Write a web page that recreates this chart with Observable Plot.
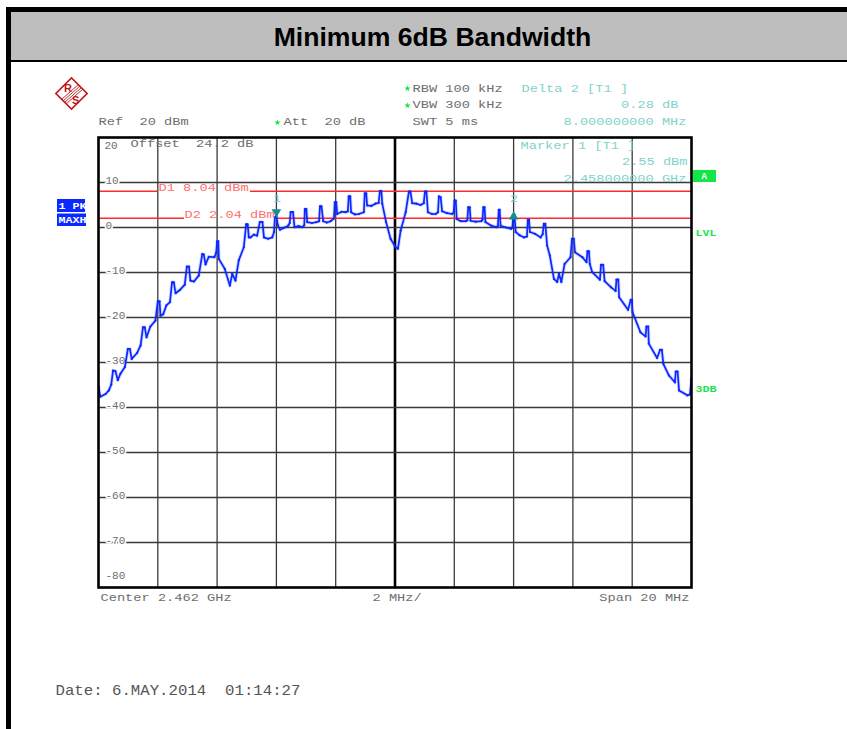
<!DOCTYPE html>
<html><head><meta charset="utf-8">
<script src="https://cdn.jsdelivr.net/npm/d3@7"></script>
<script src="https://cdn.jsdelivr.net/npm/@observablehq/plot@0.6"></script>
<style>
html,body{margin:0;padding:0;background:#fff;width:847px;height:729px;overflow:hidden}
#bar-top{position:absolute;left:6px;top:7px;width:841px;height:5px;background:#000}
#bar-left{position:absolute;left:6px;top:7px;width:5px;height:722px;background:#000}
#title{position:absolute;left:11px;top:12px;width:836px;height:48px;background:#bebebe;border-bottom:2px solid #000;
 font:bold 26.6px "Liberation Sans",Arial,sans-serif;color:#000;text-align:center;line-height:50px;text-indent:7px}
#chart{position:absolute;left:0;top:0}
#chart svg{background:transparent;overflow:visible}
</style></head><body>
<div id="bar-top"></div><div id="bar-left"></div>
<div id="title">Minimum 6dB Bandwidth</div>
<div id="chart"></div>
<script>
const traceLeftHalf=[[-10,-35.3],[-9.94,-37.6],[-9.76,-37],[-9.65,-36.2],[-9.57,-34.9],[-9.51,-31.8],[-9.43,-31.9],[-9.35,-33.9],[-9.26,-32.5],[-9.11,-31],[-9.01,-27],[-8.94,-27],[-8.88,-29.2],[-8.7,-27.9],[-8.58,-26.2],[-8.5,-22.2],[-8.44,-22.2],[-8.38,-24.4],[-8.25,-22],[-8.08,-20.7],[-8,-16.4],[-7.94,-16.4],[-7.91,-19.6],[-7.82,-19.3],[-7.71,-17.3],[-7.59,-16.6],[-7.52,-12.2],[-7.46,-12.2],[-7.4,-14.6],[-7.26,-13.9],[-7.09,-12.7],[-7.02,-8.7],[-6.95,-8.7],[-6.9,-11.8],[-6.78,-12],[-6.62,-10.7],[-6.5,-5.9],[-6.45,-6],[-6.39,-8.2],[-6.28,-6.5],[-6.09,-6.6],[-6.03,-5.6],[-6,-3.1],[-5.96,-3.1],[-5.94,-7],[-5.74,-9.2],[-5.57,-12.9],[-5.49,-10.3],[-5.38,-11.8],[-5.27,-7.3],[-5.1,-4.4],[-5.02,0.7],[-4.97,0.7],[-4.93,-2.2],[-4.87,-2.2],[-4.76,-1.6],[-4.65,-1.8],[-4.56,1.2],[-4.47,1.2],[-4.42,-2.2],[-4.28,-2.5],[-4.14,-2.2],[-4.08,-1],[-4.05,2.3],[-4,2.55],[-3.95,0.5],[-3.88,-0.5],[-3.75,-0.1],[-3.6,0.4],[-3.55,1],[-3.52,3.4],[-3.44,3.4],[-3.39,0.1],[-3.25,0.3],[-3.13,0.1],[-3.06,0.5],[-3.04,4.1],[-2.99,4.1],[-2.96,1.2],[-2.8,1],[-2.65,1.2],[-2.56,1.4],[-2.53,4.7],[-2.48,4.7],[-2.42,1.4],[-2.3,1.1],[-2.17,1.4],[-2.06,2],[-2.03,5.6],[-1.98,5.6],[-1.95,3],[-1.8,3.5],[-1.67,3.4],[-1.59,3.6],[-1.56,6.9],[-1.51,6.9],[-1.48,3.4],[-1.35,2.9],[-1.22,3],[-1.05,3.4],[-1.02,7.6],[-0.97,7.6],[-0.94,4.9],[-0.8,4.8],[-0.66,5.3],[-0.55,5.5],[-0.51,8.1],[-0.46,8.1],[-0.43,5.3],[-0.3,1.2],[-0.15,-2.5],[0.02,-4.4]];
const traceRightHalf=[[0.1,-4.7],[0.19,-0.7],[0.36,3.4],[0.47,8],[0.52,8],[0.58,5.4],[0.72,5.3],[0.86,5],[0.97,5.4],[1.01,8],[1.06,8],[1.11,3.4],[1.25,3],[1.37,3],[1.45,3.4],[1.48,6.9],[1.54,6.7],[1.59,3.6],[1.75,3.2],[1.93,3],[1.98,3.4],[2.01,6],[2.05,6],[2.08,1.9],[2.22,1.4],[2.38,1.4],[2.44,1.6],[2.47,4.5],[2.52,4.5],[2.55,1.5],[2.72,1.3],[2.91,1.4],[2.95,1.7],[2.98,4.5],[3.02,4.5],[3.05,1.2],[3.25,0.4],[3.43,0.07],[3.47,0.4],[3.5,3.9],[3.53,3.9],[3.56,0.4],[3.75,0],[3.92,-0.3],[3.96,0],[3.99,2.83],[4.03,2.83],[4.07,-1],[4.2,-1.7],[4.35,-2.2],[4.45,-2],[4.48,1.7],[4.52,1.7],[4.55,-1],[4.72,-1.4],[4.91,-2.2],[4.98,-1.5],[5.02,0.8],[5.07,0.8],[5.13,-4],[5.22,-6.2],[5.36,-11.4],[5.47,-12.1],[5.53,-10.3],[5.61,-12.1],[5.72,-8.1],[5.92,-6.6],[5.97,-2.5],[6.03,-2.5],[6.07,-5.5],[6.32,-6.6],[6.46,-7.7],[6.49,-5.3],[6.54,-5.3],[6.57,-8.1],[6.65,-9.9],[6.91,-11.6],[6.95,-8.3],[7.02,-8.3],[7.07,-11.9],[7.29,-13.3],[7.44,-14.1],[7.47,-11.6],[7.53,-11.6],[7.56,-15.5],[7.86,-18.3],[7.95,-16.1],[7.99,-16.1],[8.01,-18.8],[8.28,-23.3],[8.45,-24.2],[8.48,-22],[8.54,-22],[8.56,-25.8],[8.84,-29],[8.94,-27.2],[9,-27.2],[9.05,-30.3],[9.24,-32.9],[9.44,-34.4],[9.47,-32],[9.53,-32],[9.58,-36.2],[9.86,-37.3],[9.95,-37.1],[10,-33.6]];
const traceTable=[...traceLeftHalf,...traceRightHalf].map(([x,y])=>({x,y}));
const xDivisions=[-8,-6,-4,-2,2,4,6,8];
const yDivisions=[10,0,-10,-20,-30,-40,-50,-60,-70];
const displayLines=[8.04,2.04];
const displayLineNames=["D1 8.04 dBm","D2 2.04 dBm"];
const markerOffsets=[-4,4];
const markerLevels=[2.55,2.83];

const fx=p=>(p-394.5)/29.65, fy=p=>(227-p)/4.5;
const grey="#6e6e6e", teal="#7fd3cc", green="#14e64a", red="#ff6f6f", blue="#0a28ff", logo="#c01818";
const note=(t,px,py,o={})=>Plot.text([t],{text:d=>d,frameAnchor:"top-left",dx:px-98,dy:py-137,textAnchor:"start",
  lineAnchor:"middle",fontFamily:"Liberation Mono",fontSize:10.5,fill:grey,className:"stretch",...o});
const star=(px,py)=>Plot.dot([0],{frameAnchor:"top-left",dx:px-98,dy:py-137,symbol:"star",r:2,fill:green});
const box=(a,b,c,d,fill)=>Plot.rect([0],{x1:fx(a),x2:fx(b),y1:fy(c),y2:fy(d),fill});

const chart=Plot.plot({
  width:847,height:729,marginLeft:98,marginRight:156,marginTop:137,marginBottom:142,
  style:{background:"transparent",overflow:"visible"},
  x:{domain:[-10,10],axis:null},
  y:{domain:[-80,20],axis:null},
  marks:[
    Plot.ruleX(xDivisions,{stroke:"#3a3a3a",strokeWidth:1.3}),
    Plot.ruleX([0],{stroke:"#000",strokeWidth:2.6}),
    Plot.ruleY(yDivisions,{stroke:"#3a3a3a",strokeWidth:1.3}),
    Plot.axisY(yDivisions,{anchor:"left",tickSize:0,tickPadding:-7,textAnchor:"start",tickFormat:d=>String(d),
      fontFamily:"Liberation Mono",fontSize:10,fill:grey,textStroke:"#fff",textStrokeWidth:3,dy:-2,label:null,className:"ytick"}),
    note("20",104,145,{fontSize:10,className:"ytick"}),
    note("-80",105,575,{fontSize:10,className:"ytick"}),
    Plot.ruleY([displayLines[0]],{x1:-10,x2:fx(157),stroke:"#ff2a2a",strokeWidth:1.4}),
    Plot.ruleY([displayLines[0]],{x1:fx(250),x2:10,stroke:"#ff2a2a",strokeWidth:1.4}),
    Plot.ruleY([displayLines[1]],{x1:-10,x2:fx(184),stroke:"#ff2a2a",strokeWidth:1.4}),
    Plot.ruleY([displayLines[1]],{x1:fx(276),x2:10,stroke:"#ff2a2a",strokeWidth:1.4}),
    Plot.line(traceTable,{x:"x",y:"y",stroke:blue,strokeWidth:3.6,strokeOpacity:.18,clip:true}),
    Plot.line(traceTable,{x:"x",y:"y",stroke:blue,strokeWidth:1.7,clip:true}),
    Plot.dot(traceTable,{x:"x",y:"y",r:1.1,fill:blue,stroke:"none",clip:true}),
    Plot.frame({stroke:"#000",strokeWidth:2.6}),
    Plot.dot([0],{x:markerOffsets[0],y:markerLevels[0],dy:-4,symbol:"triangle",rotate:180,r:3.6,fill:"#12908f"}),
    Plot.dot([0],{x:markerOffsets[1],y:markerLevels[1],dy:2,symbol:"triangle",r:3.6,fill:"#12908f"}),
    note("1",272.5,198,{fill:teal}),
    note("2",509.5,198,{fill:teal}),
    note(displayLineNames[0],158,187,{fill:red}),
    note(displayLineNames[1],184,214,{fill:red}),
    note("Ref  20 dBm",98,121),
    star(277,122),
    note("Att  20 dB",283,121),
    star(407,88),
    note("RBW 100 kHz",412,88),
    star(407,105),
    note("VBW 300 kHz",412,104),
    note("SWT 5 ms",412,121),
    note("Offset  24.2 dB",130,143),
    note("Delta 2 [T1 ]",521,88,{fill:teal}),
    note("0.28 dB",678,104,{fill:teal,textAnchor:"end"}),
    note("8.000000000 MHz",686,121,{fill:teal,textAnchor:"end"}),
    note("Marker 1 [T1 ]",520,145,{fill:teal}),
    note("2.55 dBm",687,161,{fill:teal,textAnchor:"end"}),
    note("2.458000000 GHz",686,178,{fill:teal,textAnchor:"end"}),
    note("Center 2.462 GHz",100,597),
    note("2 MHz/",372,597),
    note("Span 20 MHz",689,597,{textAnchor:"end"}),
    box(57,85,199,212,blue),
    box(57,86,213.5,226,blue),
    note("1 PK",58,205.5,{fill:"#fff",fontWeight:"bold",fontSize:8.5,className:"boxed"}),
    note("MAXH",58,219.5,{fill:"#fff",fontWeight:"bold",fontSize:8.5,className:"boxed"}),
    box(693,716,170,182,green),
    note("A",701,175.5,{fill:"#fff",fontWeight:"bold",fontSize:9,className:"plain"}),
    note("LVL",695,232.5,{fill:green,fontWeight:"bold",fontSize:8.5,className:"boxed"}),
    note("3DB",695,389,{fill:green,fontWeight:"bold",fontSize:8.5,className:"boxed"}),
    note("Date: 6.MAY.2014  01:14:27",55,690,{fill:"#555",fontSize:15,className:"date"}),
    Plot.dot([0],{frameAnchor:"top-left",dx:71-98,dy:93-137,symbol:"square",rotate:45,r:12.5,fill:"#fff",stroke:logo,strokeWidth:1.6}),
    Plot.link([0,1,2,3],{x1:i=>fx(61+i*1.5),y1:i=>fy(99+i*1.5),x2:i=>fx(78+i*1.5),y2:i=>fy(84+i*1.5),stroke:logo,strokeWidth:.9}),
    note("R",63.5,87.5,{fill:logo,fontWeight:"bold",fontSize:11,fontFamily:"Liberation Sans",className:"plain"}),
    note("S",71.5,99.5,{fill:logo,fontWeight:"bold",fontSize:11,fontFamily:"Liberation Sans",className:"plain"})
  ]
});
document.getElementById("chart").append(chart);
const stretch=(sel,adv)=>chart.querySelectorAll(sel).forEach(t=>{
  const n=t.textContent.length;
  t.setAttribute("textLength",n*adv);t.setAttribute("lengthAdjust","spacingAndGlyphs");
});
stretch("g.stretch text",8.2);
stretch("g.boxed text",7);
stretch("g.date text",9.42);
stretch("g.ytick text",6.6);
</script>
</body></html>
